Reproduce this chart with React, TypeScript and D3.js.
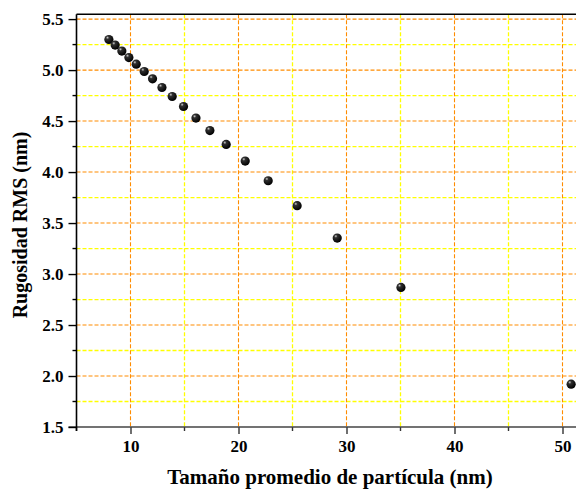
import { useEffect, useRef } from "react";
import * as d3 from "d3";

const particleSize = [
  8.0, 8.58, 9.2, 9.85, 10.53, 11.27, 12.04, 12.91, 13.86, 14.91, 16.06, 17.35,
  18.86, 20.62, 22.75, 25.43, 29.14, 35.04, 50.8,
];
const rmsRoughness = [
  5.3, 5.245, 5.186, 5.123, 5.058, 4.986, 4.914, 4.829, 4.741, 4.643, 4.529,
  4.407, 4.271, 4.108, 3.915, 3.67, 3.353, 2.869, 1.92,
];
const xMajorTicks = [10, 20, 30, 40, 50];
const xMinorTicks = [5, 15, 25, 35, 45];
const yMajorTicks = [1.5, 2.0, 2.5, 3.0, 3.5, 4.0, 4.5, 5.0, 5.5];
const yMinorTicks = [1.75, 2.25, 2.75, 3.25, 3.75, 4.25, 4.75, 5.25];

const xTitle = "Tamaño promedio de partícula (nm)";
const yTitle = "Rugosidad RMS (nm)";

const WIDTH = 576;
const HEIGHT = 491;
const FONT = "Liberation Serif, Times New Roman, serif";

export default function App() {
  const svgRef = useRef<SVGSVGElement>(null);

  useEffect(() => {
    if (!svgRef.current) return;
    const svg = d3.select(svgRef.current);
    svg.selectAll("*").remove();

    const left = 76.5;
    const right = 584.1;
    const top = 14.3;
    const bottom = 427;

    const x = d3.scaleLinear().domain([5, 52]).range([left, right]);
    const y = d3.scaleLinear().domain([1.5, 5.547]).range([bottom, top]);

    const defs = svg.append("defs");
    const grad = defs
      .append("radialGradient")
      .attr("id", "ball")
      .attr("cx", "35%")
      .attr("cy", "30%")
      .attr("r", "70%");
    grad.append("stop").attr("offset", "0%").attr("stop-color", "#d0d0d0");
    grad.append("stop").attr("offset", "25%").attr("stop-color", "#303030");
    grad.append("stop").attr("offset", "100%").attr("stop-color", "#000");

    // grid
    const grid = svg.append("g");
    grid
      .selectAll("line.xminor")
      .data(xMinorTicks.filter((t) => t > 5))
      .join("line")
      .attr("x1", (t) => x(t))
      .attr("x2", (t) => x(t))
      .attr("y1", top)
      .attr("y2", bottom)
      .attr("stroke", "#FFFF00")
      .attr("stroke-width", 1.3)
      .attr("stroke-dasharray", "4,2");
    grid
      .selectAll("line.yminor")
      .data(yMinorTicks)
      .join("line")
      .attr("x1", left)
      .attr("x2", right)
      .attr("y1", (t) => y(t))
      .attr("y2", (t) => y(t))
      .attr("stroke", "#FFFF00")
      .attr("stroke-width", 1.3)
      .attr("stroke-dasharray", "4,2");
    grid
      .append("g")
      .selectAll("line")
      .data(xMajorTicks)
      .join("line")
      .attr("x1", (t) => x(t))
      .attr("x2", (t) => x(t))
      .attr("y1", top)
      .attr("y2", bottom)
      .attr("stroke", "#FF8C00")
      .attr("stroke-width", 1.1)
      .attr("stroke-dasharray", "4,2");
    grid
      .append("g")
      .selectAll("line")
      .data(yMajorTicks.filter((t) => t > 1.5))
      .join("line")
      .attr("x1", left)
      .attr("x2", right)
      .attr("y1", (t) => y(t))
      .attr("y2", (t) => y(t))
      .attr("stroke", "#FF8C00")
      .attr("stroke-width", 1.1)
      .attr("stroke-dasharray", "4,2");

    // frame top
    svg
      .append("line")
      .attr("x1", left)
      .attr("x2", right)
      .attr("y1", top)
      .attr("y2", top)
      .attr("stroke", "#000")
      .attr("stroke-width", 1.6);

    // axes
    const xAxis = svg
      .append("g")
      .attr("transform", `translate(0,${bottom})`)
      .call(
        d3
          .axisBottom(x)
          .tickValues(xMajorTicks)
          .tickSize(7)
          .tickPadding(6)
          .tickFormat((d) => String(d))
      )
      .attr("font-family", FONT)
      .attr("font-size", 17)
      .attr("font-weight", "bold");
    xAxis.select("path").remove();
    xAxis
      .selectAll("line")
      .attr("stroke", "#333")
      .attr("stroke-width", 1.4);
    xAxis.selectAll("text").attr("fill", "#000").style("font-family", FONT);
    xAxis
      .append("g")
      .selectAll("line")
      .data(xMinorTicks)
      .join("line")
      .attr("x1", (t) => x(t))
      .attr("x2", (t) => x(t))
      .attr("y1", 0)
      .attr("y2", 4)
      .attr("stroke", "#333")
      .attr("stroke-width", 1.4);
    xAxis
      .append("line")
      .attr("x1", left - 8)
      .attr("x2", right)
      .attr("stroke", "#444")
      .attr("stroke-width", 1.6);

    const yAxis = svg
      .append("g")
      .attr("transform", `translate(${left},0)`)
      .call(
        d3
          .axisLeft(y)
          .tickValues(yMajorTicks)
          .tickSize(8)
          .tickPadding(5)
          .tickFormat(d3.format(".1f"))
      )
      .attr("font-family", FONT)
      .attr("font-size", 17)
      .attr("font-weight", "bold");
    yAxis.select("path").remove();
    yAxis
      .selectAll("line")
      .attr("stroke", "#000")
      .attr("stroke-width", 1.4);
    yAxis.selectAll("text").attr("fill", "#000").style("font-family", FONT);
    yAxis
      .append("g")
      .selectAll("line")
      .data(yMinorTicks)
      .join("line")
      .attr("x1", -4)
      .attr("x2", 0)
      .attr("y1", (t) => y(t))
      .attr("y2", (t) => y(t))
      .attr("stroke", "#000")
      .attr("stroke-width", 1.4);
    yAxis
      .append("line")
      .attr("y1", top)
      .attr("y2", bottom + 4)
      .attr("stroke", "#000")
      .attr("stroke-width", 1.6);

    // titles
    svg
      .append("text")
      .attr("x", 330)
      .attr("y", 484)
      .attr("text-anchor", "middle")
      .style("font-family", FONT)
      .attr("font-weight", "bold")
      .attr("font-size", 21)
      .text(xTitle);
    svg
      .append("text")
      .attr("transform", `translate(27,225) rotate(-90)`)
      .attr("text-anchor", "middle")
      .style("font-family", FONT)
      .attr("font-weight", "bold")
      .attr("font-size", 20)
      .text(yTitle);

    // points
    svg
      .append("g")
      .selectAll("circle")
      .data(particleSize.map((v, i) => [v, rmsRoughness[i]]))
      .join("circle")
      .attr("cx", (d) => x(d[0]))
      .attr("cy", (d) => y(d[1]))
      .attr("r", 4.6)
      .attr("fill", "url(#ball)");
  }, []);

  return (
    <div style={{ position: "absolute", left: 0, top: 0, width: WIDTH, height: HEIGHT, overflow: "hidden", background: "#fff" }}>
      <svg ref={svgRef} width={WIDTH} height={HEIGHT} style={{ display: "block" }} />
    </div>
  );
}
